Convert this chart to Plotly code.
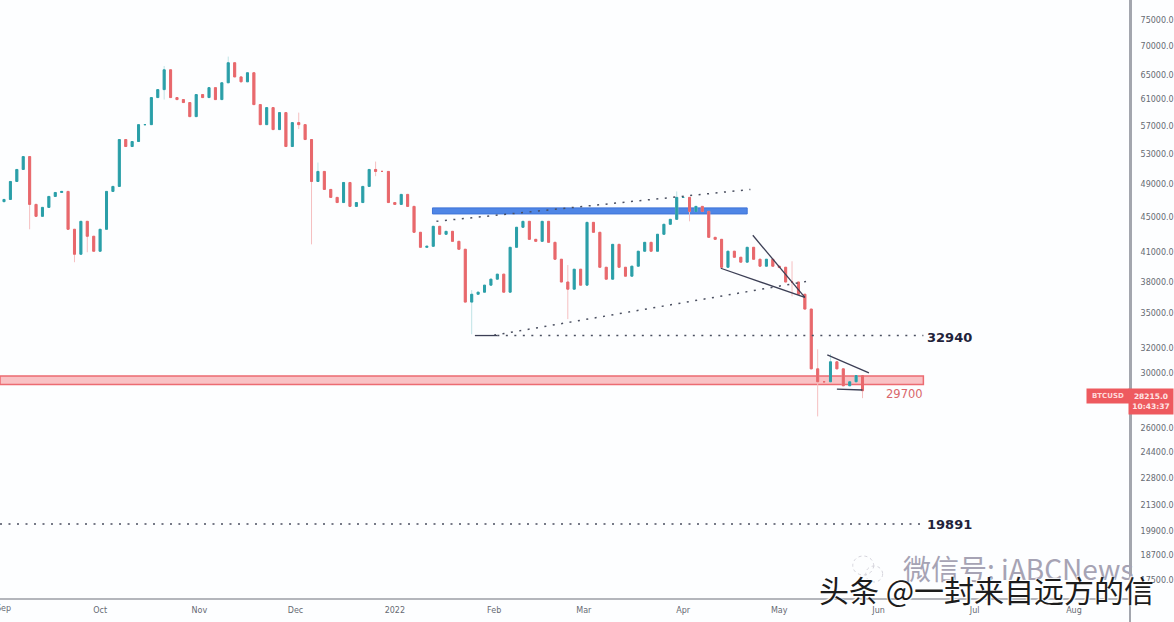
import math
import pandas as pd
import plotly.graph_objects as go

first_open = 46800
closes = [47070,49320,50880,52610,46470,45050,46110,47440,47930,48060,
43560,40830,44470,42780,41150,43560,48060,48690,54990,54000,
54710,57160,57160,61320,62600,65900,61320,61000,60530,58360,
61800,61320,62920,61000,63720,67120,64700,63880,65400,60210,
57160,59740,56430,58970,54000,57460,57160,54990,49320,50620,
48310,47320,46690,49190,46230,46690,48690,50880,50620,50620,
46690,46470,47690,46230,43220,41570,41680,43900,43000,43330,
42220,41360,36060,36800,37000,37680,38270,38770,37000,41570,
43790,44470,42440,42220,44470,42110,40300,37990,37290,39270,
37680,44350,43220,39470,38270,41890,39470,38570,39580,41150,
42110,41150,43000,44130,44700,47320,47320,45630,46230,45630,
42660,42440,39470,41150,40510,40000,41570,40300,39580,40300,
39580,39470,37990,37990,36800,35410,30320,29320,29320,30880,
30320,29020,29320,29800,28650]
dates = pd.date_range("2021-09-01", periods=len(closes), freq="2D")
opens = [first_open] + closes[:-1]

wick_index = [4,11,13,25,35,46,48,49,58,73,88,105,107,123,127,129,134]
wick_high  = [47000,41500,44130,66560,68200,58970,49900,51800,51930,37200,39700,48060,47200,40090,31900,31520,29400]
wick_low   = [43560,39990,41040,61000,64000,56500,41890,50000,50000,33170,34500,46500,44470,36600,26800,29900,28100]

highs = [max(o, c) for o, c in zip(opens, closes)]
lows = [min(o, c) for o, c in zip(opens, closes)]
body_high, body_low = list(highs), list(lows)
for i, h, l in zip(wick_index, wick_high, wick_low):
    highs[i] = max(highs[i], h)
    lows[i] = min(lows[i], l)

UP, DOWN = "#2a9fa8", "#e8686c"

y_ticks = [75000,70000,65000,61000,57000,53000,49000,45000,41000,38000,35000,32000,30000,26000,24400,22800,21300,19900,18700,17500]
y_labels = [f"{v}.0" for v in y_ticks]
x_ticks = ["2021-10-01","2021-11-01","2021-12-01","2022-01-01","2022-02-01","2022-03-01","2022-04-01","2022-05-01","2022-06-01","2022-07-01","2022-08-01"]
x_labels = ["Oct","Nov","Dec","2022","Feb","Mar","Apr","May","Jun","Jul","Aug"]

fig = go.Figure()
fig.add_trace(go.Candlestick(x=dates, open=opens, high=highs, low=lows, close=closes,
    increasing=dict(line=dict(color="#bfe3e6", width=1), fillcolor="#bfe3e6"),
    decreasing=dict(line=dict(color="#f5bfc1", width=1), fillcolor="#f5bfc1"),
    whiskerwidth=0, showlegend=False, hoverinfo="skip"))
fig.add_trace(go.Candlestick(x=dates, open=opens, high=body_high, low=body_low, close=closes,
    increasing=dict(line=dict(color=UP, width=1), fillcolor=UP),
    decreasing=dict(line=dict(color=DOWN, width=1), fillcolor=DOWN),
    whiskerwidth=0, showlegend=False))

# drawn levels and trend lines
blue_band = dict(x0="2022-01-12 18:00", x1="2022-04-21", y0=45330, y1=46050)
red_band = dict(x0="2021-08-30 18:00", x1="2022-06-15", y0=29120, y1=29770)
dotted_lines = [
    ("2022-01-14", 44470, "2022-04-22", 48310),
    ("2022-02-01", 33090, "2022-05-10", 38070),
    ("2022-02-02", 33060, "2022-06-15", 33060),
    ("2021-08-30 18:00", 20270, "2022-06-15", 20270),
]
solid_lines = [
    ("2022-01-26", 33060, "2022-02-02", 33060),
    ("2022-04-22 18:00", 42890, "2022-05-09", 36500),
    ("2022-04-12 18:00", 39370, "2022-05-09", 36500),
    ("2022-05-16", 31440, "2022-05-29", 30000),
    ("2022-05-19", 28770, "2022-05-27", 28700),
]

shapes = [
    dict(type="rect", xref="x", yref="y", fillcolor="#f9c2c5", line=dict(color="#ec6b72", width=1.5), layer="below", **red_band),
    dict(type="rect", xref="x", yref="y", fillcolor="#4f86e6", line=dict(color="#3f74d8", width=1), layer="below", **blue_band),
    dict(type="line", xref="paper", yref="paper", x0=1, x1=1, y0=-24/598, y1=1, line=dict(color="#a3a6ae", width=2)),
    # faint emblem beside the watermark
    dict(type="circle", xref="paper", yref="paper", x0=855/1133, x1=876/1133, y0=1-575/598, y1=1-556/598,
         line=dict(color="#d5d4dc", width=1, dash="dot")),
    dict(type="circle", xref="paper", yref="paper", x0=868/1133, x1=885/1133, y0=1-582/598, y1=1-566/598,
         line=dict(color="#d5d4dc", width=1, dash="dot")),
]
for x0, y0, x1, y1 in dotted_lines:
    shapes.append(dict(type="line", xref="x", yref="y", x0=x0, y0=y0, x1=x1, y1=y1,
                       line=dict(color="#4a4f60", width=1.5, dash="2px 6.5px")))
for x0, y0, x1, y1 in solid_lines:
    shapes.append(dict(type="line", xref="x", yref="y", x0=x0, y0=y0, x1=x1, y1=y1,
                       line=dict(color="#3c3f55", width=1.3)))

FONT = "DejaVu Sans"
def price_note(x, price, text, size, color):
    return dict(x=x, y=math.log10(price), xref="x", yref="y", text=text, showarrow=False,
                xanchor="center", yanchor="middle", font=dict(family=FONT, size=size, color=color))
def page_note(px, py, text, **kw):
    return dict(x=px/1133, y=1-py/598, xref="paper", yref="paper", text=text, showarrow=False,
                xanchor="center", yanchor="middle", **kw)

annotations = [
    price_note("2022-06-23", 32880, "<b>32940</b>", 13, "#22223a"),
    price_note("2022-06-23", 20220, "<b>19891</b>", 13, "#22223a"),
    price_note("2022-06-09", 28370, "29700", 11.5, "#d9666b"),
    page_note(1111, 396, "<b>BTCUSD</b>", width=40, height=12, bgcolor="#ee5a5f",
              font=dict(family=FONT, size=7, color="#ffd9da")),
    page_note(1154, 401, "<b>28215.0</b><br><b>10:43:37</b>", width=42, height=23, bgcolor="#ee5a5f",
              font=dict(family=FONT, size=7.5, color="#ffe5e5")),
    page_note(4, 608, "Sep", font=dict(family=FONT, size=8, color="#666a73")),
    page_note(1021, 568, "微信号: iABCNews", font=dict(family="Noto Sans CJK SC", size=28, color="#a6a3b4")),
    page_note(989, 589, "头条 @一封来自远方的信",
              font=dict(family="Noto Sans CJK SC", size=30, color="#1c1c1c",
                        shadow="1px 1px 1px #ffffff, -1px -1px 1px #ffffff")),
]

fig.update_layout(
    width=1174, height=622,
    margin=dict(l=0, r=41, t=0, b=24),
    paper_bgcolor="#fdfeff", plot_bgcolor="#fdfeff",
    shapes=shapes, annotations=annotations,
    showlegend=False, dragmode=False, boxgap=0.55,
    xaxis=dict(type="date", range=["2021-08-30 18:00", "2022-08-18 12:00"],
               rangeslider=dict(visible=False),
               tickmode="array", tickvals=x_ticks, ticktext=x_labels, showgrid=False, zeroline=False,
               showline=True, linecolor="#b4b6bc", linewidth=2, ticks="outside", ticklen=3, tickcolor="rgba(0,0,0,0)",
               tickfont=dict(family=FONT, size=8, color="#666a73")),
    yaxis=dict(type="log", range=[4.2234, 4.8976], side="right",
               tickmode="array", tickvals=y_ticks, ticktext=y_labels, showgrid=False, zeroline=False,
               showline=True, linecolor="#a3a6ae", linewidth=2, ticks="outside", ticklen=7, tickcolor="rgba(0,0,0,0)",
               tickfont=dict(family=FONT, size=8, color="#666a73")),
)

fig.write_html("out.html", config=dict(displayModeBar=False),
               post_script="document.body.style.margin='0';")
